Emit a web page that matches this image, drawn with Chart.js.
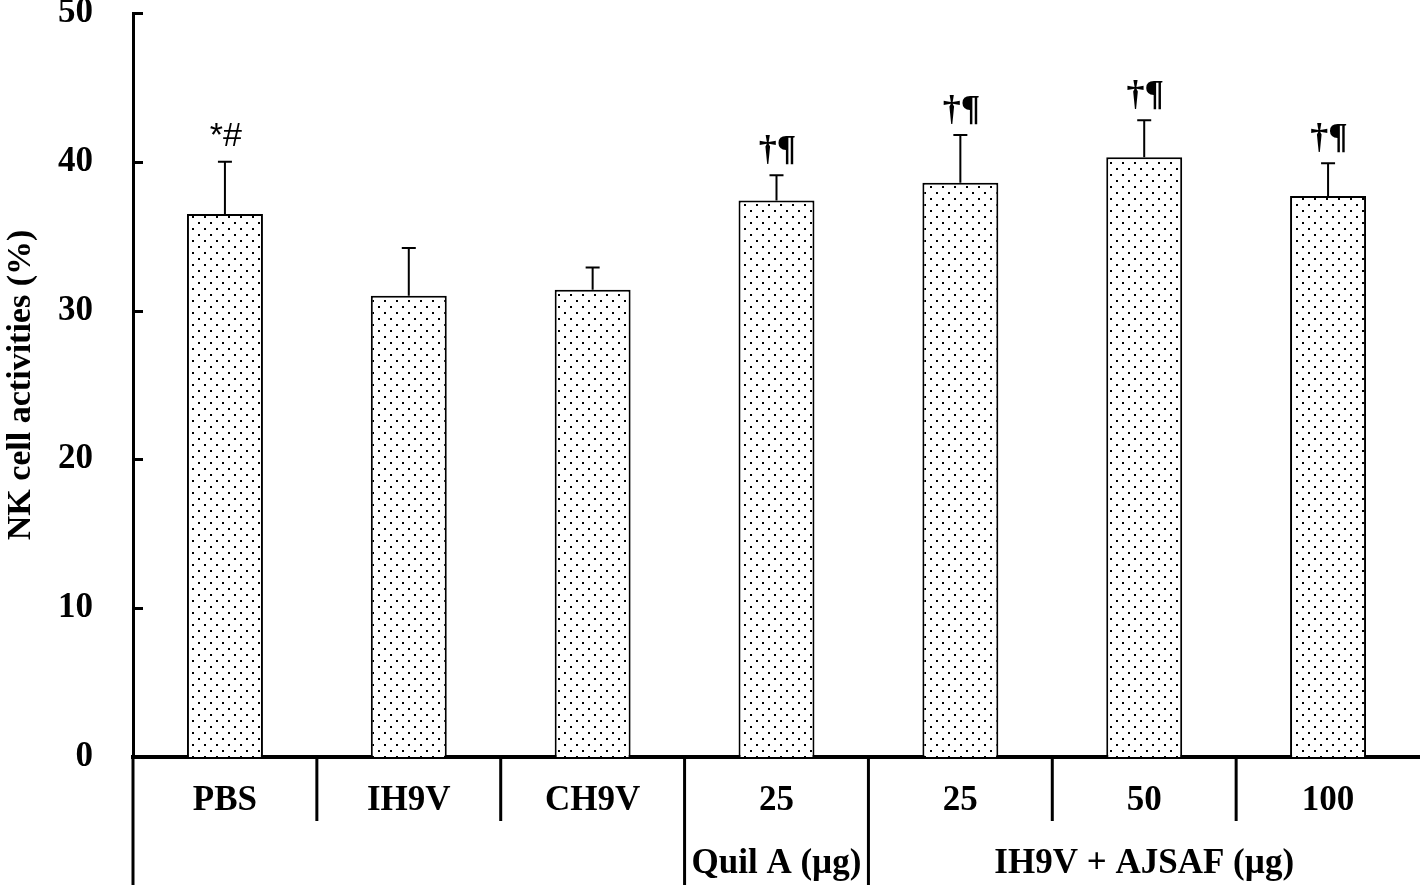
<!DOCTYPE html>
<html><head><meta charset="utf-8">
<script src="https://cdn.jsdelivr.net/npm/chart.js@4.4.0/dist/chart.umd.min.js"></script>
<style>html,body{margin:0;padding:0;background:#fff}#wrap{width:1420px;height:885px}</style>
</head><body><div id="wrap"><canvas id="c" width="1420" height="885"></canvas></div>
<script>
const categories = ['PBS', 'IH9V', 'CH9V', '25', '25', '50', '100'];
const values = [36.5, 31.0, 31.4, 37.4, 38.6, 40.3, 37.7];
const errors = [3.5, 3.2, 1.5, 1.7, 3.2, 2.5, 2.2];
const marks = ['*#', '', '', '†¶', '†¶', '†¶', '†¶'];
const groupNames = ['Quil A (µg)', 'IH9V + AJSAF (µg)'];
const groupStart = [3, 4];
const groupEnd = [3, 6];
const yMin = 0, yMax = 50, yStep = 10;
const yTitle = 'NK cell activities (%)';

const FONT = 'Liberation Serif';
const FS = 35;

function makePattern() {
  const p = document.createElement('canvas');
  p.width = 12; p.height = 12;
  const g = p.getContext('2d');
  g.fillStyle = '#fff'; g.fillRect(0, 0, 12, 12);
  g.fillStyle = '#000';
  g.fillRect(0, 0, 2, 2);
  g.fillRect(6, 6, 2, 2);
  return document.getElementById('c').getContext('2d').createPattern(p, 'repeat');
}

const extras = {
  id: 'extras',
  afterDatasetsDraw(chart) {
    const ctx = chart.ctx;
    const y = chart.scales.y;
    const meta = chart.getDatasetMeta(0);
    ctx.save();
    ctx.strokeStyle = '#000';
    ctx.fillStyle = '#000';
    meta.data.forEach((bar, i) => {
      const top = y.getPixelForValue(values[i] + errors[i]);
      ctx.lineWidth = 2;
      ctx.beginPath();
      ctx.moveTo(bar.x, bar.y);
      ctx.lineTo(bar.x, top);
      ctx.moveTo(bar.x - 7, top);
      ctx.lineTo(bar.x + 7, top);
      ctx.stroke();
      if (marks[i]) {
        ctx.textAlign = 'center';
        ctx.textBaseline = 'alphabetic';
        if (marks[i] === '*#') {
          ctx.font = '34px "Liberation Sans"';
          ctx.fillText(marks[i], bar.x + 1, top - 16);
        } else {
          ctx.font = 'bold 36px "' + FONT + '"';
          ctx.fillText(marks[i], bar.x + 1, top - 15);
        }
      }
    });
    ctx.restore();
  },
  afterDraw(chart) {
    const ctx = chart.ctx;
    const x = chart.scales.x, y = chart.scales.y;
    const area = chart.chartArea;
    ctx.save();
    ctx.strokeStyle = '#000';
    ctx.fillStyle = '#000';
    ctx.lineWidth = 3;
    for (let v = yMin; v <= yMax; v += yStep) {
      const py = Math.round(y.getPixelForValue(v)) + 0.5;
      ctx.beginPath();
      ctx.moveTo(area.left, py);
      ctx.lineTo(area.left + 10, py);
      ctx.stroke();
    }
    const n = categories.length;
    const half = (x.getPixelForValue(1) - x.getPixelForValue(0)) / 2;
    const fullBounds = new Set([0]);
    groupStart.forEach(s => fullBounds.add(s));
    groupEnd.forEach(e => fullBounds.add(e + 1));
    ctx.lineWidth = 3;
    for (let b = 0; b < n; b++) {
      const px = x.getPixelForValue(b) - half;
      const full = fullBounds.has(b);
      ctx.beginPath();
      ctx.moveTo(px, area.bottom);
      ctx.lineTo(px, full ? chart.height : area.bottom + 64);
      ctx.stroke();
    }
    ctx.font = 'bold ' + FS + 'px "' + FONT + '"';
    ctx.textAlign = 'center';
    ctx.textBaseline = 'middle';
    groupNames.forEach((g, i) => {
      const cx = (x.getPixelForValue(groupStart[i]) + x.getPixelForValue(groupEnd[i])) / 2;
      ctx.fillText(g, cx, area.bottom + 107);
    });
    ctx.restore();
  }
};

new Chart(document.getElementById('c'), {
  type: 'bar',
  data: {
    labels: categories,
    datasets: [{
      data: values,
      backgroundColor: makePattern(),
      borderColor: '#000',
      borderWidth: 2,
      barPercentage: 1,
      categoryPercentage: 0.413
    }]
  },
  options: {
    responsive: false,
    animation: false,
    layout: { padding: { top: 13, left: 0, right: 0, bottom: 0 } },
    plugins: { legend: { display: false }, tooltip: { enabled: false } },
    scales: {
      x: {
        grid: { display: false, drawTicks: false },
        border: { color: '#000', width: 4 },
        ticks: { color: '#000', font: { family: FONT, weight: 'bold', size: FS }, padding: 23, maxRotation: 0, autoSkip: false },
        afterFit(s) { s.height = 128; s.paddingLeft = 0; s.paddingRight = 0; }
      },
      y: {
        min: yMin, max: yMax,
        grid: { display: false, drawTicks: false },
        border: { color: '#000', width: 3 },
        ticks: { stepSize: yStep, color: '#000', font: { family: FONT, weight: 'bold', size: FS }, padding: 40 },
        title: { display: true, text: yTitle, color: '#000', font: { family: FONT, weight: 'bold', size: 34 }, padding: { top: 1, bottom: 0 } },
        afterFit(s) { s.width = 133; s.paddingTop = 0; s.paddingBottom = 0; }
      }
    }
  },
  plugins: [extras]
});
</script>
</body></html>
